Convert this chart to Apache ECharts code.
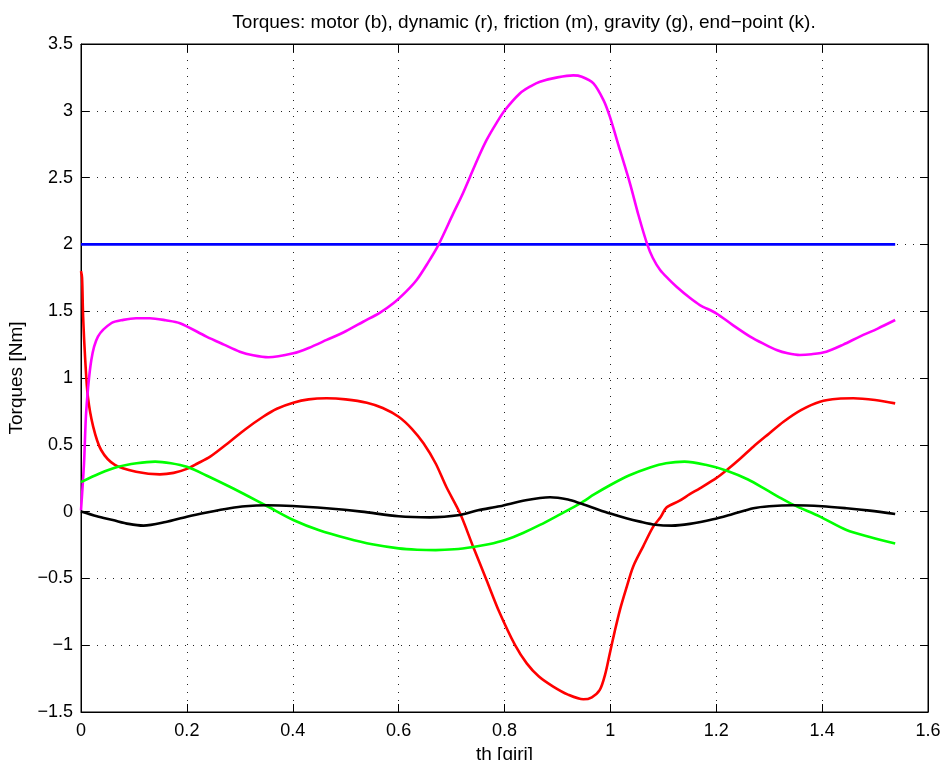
<!DOCTYPE html>
<html>
<head>
<meta charset="utf-8">
<script src="https://cdn.jsdelivr.net/npm/echarts@6/dist/echarts.min.js"></script>
<style>html,body{margin:0;padding:0;background:#fff;}#c{width:942px;height:760px;}</style>
</head>
<body>
<div id="c"></div>
<script>
// ---- data ----
var titleText = 'Torques: motor (b), dynamic (r), friction (m), gravity (g), end\u2212point (k).';
var xName = 'th [giri]';
var yName = 'Torques [Nm]';
var xTicks = [0, 0.2, 0.4, 0.6, 0.8, 1, 1.2, 1.4, 1.6];
var yTicks = [-1.5, -1, -0.5, 0, 0.5, 1, 1.5, 2, 2.5, 3, 3.5];

var motorX = [0, 1.538];
var motorY = [2, 2];

var dynamicX = [0, 0.002, 0.004, 0.008, 0.013, 0.023, 0.038, 0.064, 0.104, 0.149, 0.175, 0.2, 0.22, 0.244, 0.281, 0.31, 0.344, 0.37, 0.401, 0.43, 0.464, 0.5, 0.54, 0.57, 0.6, 0.625, 0.647, 0.67, 0.69, 0.716, 0.74, 0.766, 0.79, 0.82, 0.842, 0.865, 0.892, 0.92, 0.949, 0.965, 0.98, 0.99, 0.999, 1.008, 1.018, 1.03, 1.043, 1.062, 1.081, 1.095, 1.106, 1.13, 1.15, 1.169, 1.2, 1.22, 1.245, 1.27, 1.3, 1.327, 1.36, 1.396, 1.43, 1.459, 1.5, 1.538];
var dynamicY = [1.8, 1.75, 1.46, 1.135, 0.86, 0.636, 0.461, 0.349, 0.299, 0.279, 0.29, 0.32, 0.36, 0.411, 0.523, 0.615, 0.71, 0.77, 0.815, 0.84, 0.848, 0.84, 0.815, 0.775, 0.71, 0.62, 0.511, 0.36, 0.186, -0.013, -0.255, -0.512, -0.75, -1.0, -1.136, -1.235, -1.31, -1.37, -1.405, -1.39, -1.335, -1.22, -1.06, -0.9, -0.737, -0.575, -0.412, -0.26, -0.113, -0.04, 0.03, 0.08, 0.13, 0.174, 0.25, 0.311, 0.395, 0.486, 0.585, 0.673, 0.76, 0.823, 0.845, 0.848, 0.835, 0.81];

var frictionX = [0, 0.0057, 0.01, 0.0195, 0.032, 0.057, 0.08, 0.104, 0.13, 0.16, 0.187, 0.237, 0.27, 0.3, 0.325, 0.354, 0.401, 0.43, 0.464, 0.5, 0.533, 0.565, 0.59, 0.615, 0.634, 0.655, 0.675, 0.703, 0.72, 0.735, 0.75, 0.766, 0.785, 0.801, 0.829, 0.85, 0.867, 0.9, 0.93, 0.946, 0.968, 0.987, 0.999, 1.018, 1.037, 1.053, 1.069, 1.08, 1.094, 1.11, 1.125, 1.15, 1.169, 1.2, 1.23, 1.264, 1.29, 1.314, 1.335, 1.358, 1.38, 1.408, 1.44, 1.471, 1.505, 1.538];
var frictionY = [0.01, 0.36, 0.76, 1.135, 1.31, 1.41, 1.435, 1.447, 1.447, 1.432, 1.41, 1.31, 1.25, 1.197, 1.17, 1.155, 1.185, 1.225, 1.285, 1.35, 1.421, 1.49, 1.559, 1.65, 1.733, 1.86, 1.995, 2.23, 2.37, 2.507, 2.645, 2.78, 2.91, 3.006, 3.13, 3.185, 3.218, 3.25, 3.265, 3.255, 3.206, 3.08, 2.956, 2.707, 2.457, 2.22, 2.008, 1.9, 1.808, 1.74, 1.683, 1.6, 1.546, 1.484, 1.4, 1.31, 1.255, 1.21, 1.185, 1.172, 1.178, 1.197, 1.25, 1.31, 1.37, 1.434];

var gravityX = [0, 0.035, 0.07, 0.105, 0.14, 0.17, 0.2, 0.24, 0.281, 0.316, 0.351, 0.401, 0.45, 0.502, 0.55, 0.6, 0.635, 0.67, 0.705, 0.741, 0.77, 0.801, 0.835, 0.867, 0.905, 0.943, 0.97, 1.0, 1.035, 1.075, 1.105, 1.14, 1.18, 1.22, 1.26, 1.295, 1.32, 1.346, 1.396, 1.446, 1.49, 1.538];
var gravityY = [0.22, 0.285, 0.335, 0.362, 0.374, 0.362, 0.335, 0.265, 0.186, 0.115, 0.042, -0.063, -0.14, -0.2, -0.245, -0.275, -0.285, -0.288, -0.282, -0.265, -0.245, -0.213, -0.16, -0.1, -0.02, 0.062, 0.13, 0.199, 0.27, 0.33, 0.362, 0.374, 0.35, 0.306, 0.24, 0.162, 0.105, 0.05, -0.038, -0.138, -0.19, -0.238];

var endpointX = [0, 0.03, 0.06, 0.09, 0.118, 0.16, 0.2, 0.24, 0.281, 0.31, 0.351, 0.4, 0.464, 0.53, 0.6, 0.659, 0.716, 0.75, 0.791, 0.84, 0.886, 0.92, 0.943, 0.97, 1.0, 1.03, 1.056, 1.085, 1.116, 1.15, 1.194, 1.23, 1.27, 1.3, 1.346, 1.4, 1.446, 1.49, 1.538];
var endpointY = [0, -0.035, -0.063, -0.092, -0.105, -0.078, -0.038, -0.005, 0.025, 0.04, 0.047, 0.042, 0.025, 0.0, -0.035, -0.043, -0.025, 0.01, 0.04, 0.085, 0.107, 0.09, 0.062, 0.025, -0.015, -0.05, -0.075, -0.098, -0.105, -0.092, -0.058, -0.02, 0.025, 0.04, 0.047, 0.04, 0.025, 0.007, -0.018];

function pairs(xs, ys) { return xs.map(function (x, i) { return [x, ys[i]]; }); }
function fmt(v) { return String(v).replace('-', '\u2212'); }

var FONT = 'Liberation Sans, Arial, Helvetica, sans-serif';
var chart = echarts.init(document.getElementById('c'), null, { renderer: 'canvas' });

var gridLine = { show: true, lineStyle: { color: '#222', type: [1, 7], width: 1 } };
function mkSeries(name, color, xs, ys) {
  return {
    name: name, type: 'line', data: pairs(xs, ys), xAxisIndex: 0, yAxisIndex: 0,
    showSymbol: false, symbol: 'none', smooth: 0.3,
    lineStyle: { color: color, width: 2.6 }, itemStyle: { color: color },
    animation: false, z: 3
  };
}
function axisLineStyle() { return { show: true, onZero: false, lineStyle: { color: '#000', width: 1 } }; }
function tickStyle() { return { show: true, inside: true, length: 8, lineStyle: { color: '#000' } }; }

chart.setOption({
  animation: false,
  backgroundColor: '#fff',
  title: {
    text: titleText, left: 519, top: 8, textAlign: 'center',
    textStyle: { fontFamily: FONT, fontSize: 19, fontWeight: 'normal', color: '#000' }
  },
  grid: { left: 81, right: 14, top: 44, bottom: 48, show: true, borderColor: '#000', borderWidth: 1,
          containLabel: false, outerBoundsMode: 'none' },
  xAxis: [{
    type: 'value', min: 0, max: 1.6, interval: 0.2, position: 'bottom',
    name: xName, nameLocation: 'middle', nameGap: 32,
    nameTextStyle: { fontFamily: FONT, fontSize: 19, color: '#000' },
    axisLine: axisLineStyle(), axisTick: tickStyle(),
    axisLabel: { fontFamily: FONT, fontSize: 18, color: '#000', margin: 10, formatter: fmt },
    splitLine: gridLine
  }, {
    type: 'value', min: 0, max: 1.6, interval: 0.2, position: 'top',
    axisLine: axisLineStyle(), axisTick: tickStyle(),
    axisLabel: { show: false }, splitLine: { show: false }
  }],
  yAxis: [{
    type: 'value', min: -1.5, max: 3.5, interval: 0.5, position: 'left',
    name: yName, nameLocation: 'middle', nameGap: 53, nameRotate: 90,
    nameTextStyle: { fontFamily: FONT, fontSize: 19, color: '#000' },
    axisLine: axisLineStyle(), axisTick: tickStyle(),
    axisLabel: { fontFamily: FONT, fontSize: 18, color: '#000', margin: 8, formatter: fmt },
    splitLine: gridLine
  }, {
    type: 'value', min: -1.5, max: 3.5, interval: 0.5, position: 'right',
    axisLine: axisLineStyle(), axisTick: tickStyle(),
    axisLabel: { show: false }, splitLine: { show: false }
  }],
  series: [
    mkSeries('motor', '#0000ff', motorX, motorY),
    mkSeries('dynamic', '#ff0000', dynamicX, dynamicY),
    mkSeries('friction', '#ff00ff', frictionX, frictionY),
    mkSeries('gravity', '#00ff00', gravityX, gravityY),
    mkSeries('end-point', '#000000', endpointX, endpointY)
  ]
});
</script>
</body>
</html>
